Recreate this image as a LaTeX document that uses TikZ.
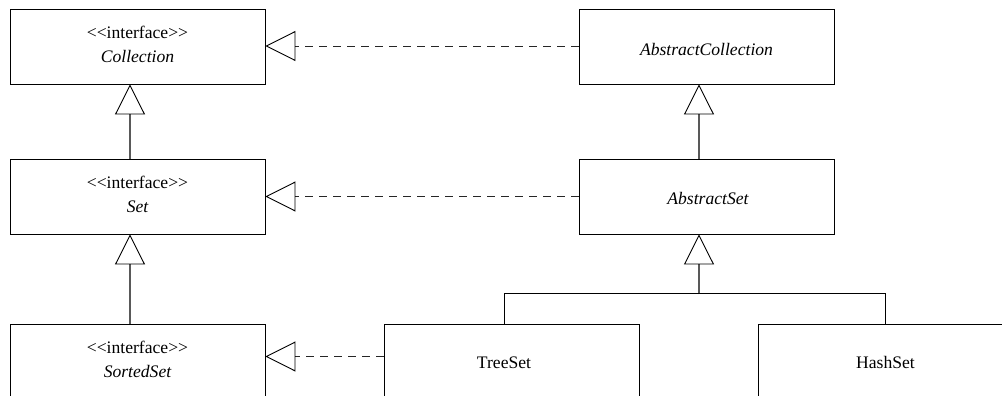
\documentclass[tikz,border=0pt]{standalone}
\usepackage{fontspec}
\setmainfont{Liberation Serif}[Ligatures=TeXOff]
\usetikzlibrary{arrows.meta,calc}
\begin{document}
\begin{tikzpicture}[x=1pt,y=-1pt,
  cls/.style={draw=black,line width=0.9pt,minimum width=255pt,minimum height=75pt,inner sep=0pt},
  lbl/.style={font=\fontsize{17.6}{21}\selectfont,anchor=base,inner sep=0pt},
  tip/.style={-{Triangle[open,length=30pt,width=30pt,line width=0.9pt,color=black]}},
  gen/.style={draw=black!65,line width=1.1pt,tip},
  link/.style={draw=black,line width=0.9pt},
  realz/.style={draw=black!85,line width=0.9pt,dash pattern=on 8pt off 6pt,tip}
]
\useasboundingbox (0,0) rectangle (1002,396);
\clip (0,0) rectangle (1002,396);

% boxes
\node[cls] (coll)  at (137.5,46.5)  {};
\node[cls] (acoll) at (706.5,46.5)  {};
\node[cls] (set)   at (137.5,196.5) {};
\node[cls] (aset)  at (706.5,196.5) {};
\node[cls] (sset)  at (137.5,361.5) {};
\node[cls] (tree)  at (511.5,361.5) {};
\node[cls] (hash)  at (885.5,361.5) {};

% texts
\node[lbl] (collA) at ($(coll.north)+(0,30)$) {<\kern0pt<interface>\kern0pt>};
\node[lbl] (collB) at ($(coll.north)+(0,54)$) {\itshape Collection};
\node[lbl] (setA)  at ($(set.north)+(0,30)$)  {<\kern0pt<interface>\kern0pt>};
\node[lbl] (setB)  at ($(set.north)+(0,54)$)  {\itshape Set};
\node[lbl] (ssetA) at ($(sset.north)+(0,30)$) {<\kern0pt<interface>\kern0pt>};
\node[lbl] (ssetB) at ($(sset.north)+(0,54)$) {\itshape SortedSet};
\node[lbl] (acollT) at ($(acoll.north)+(0,47)$) {\itshape AbstractCollection};
\node[lbl] (asetT)  at ($(aset.north)+(1.5,46)$) {\itshape AbstractSet};
\node[lbl] (treeT)  at ($(tree.north)+(-7.5,45)$) {TreeSet};
\node[lbl] (hashT)  at ($(hash.north)+(0,45)$) {HashSet};

% generalisations
\draw[gen] ($(set.north)+(-7.5,0)$) -- ($(coll.south)+(-7.5,0)$);
\draw[gen] ($(sset.north)+(-7.5,0)$) -- ($(set.south)+(-7.5,0)$);
\draw[gen] ($(aset.north)+(-7.5,0)$) -- ($(acoll.south)+(-7.5,0)$);
\coordinate (j)  at ($(aset.south)+(-7.5,60)$);
\coordinate (jt) at ($(tree.north)+(-7.5,-30)$);
\coordinate (jh) at ($(hash.north)+(0,-30)$);
\draw[gen] (j) -- ($(aset.south)+(-7.5,0)$);
\draw[link] ($(tree.north)+(-7.5,0)$) -- (jt) -- (jh) -- (hash.north);

% realisations
\draw[realz] ($(acoll.west)+(0,-0.5)$) -- ($(coll.east)+(0,-0.5)$);
\draw[realz] (aset.west) -- (set.east);
\draw[realz] ($(tree.west)+(0,-5)$) -- ($(sset.east)+(0,-5)$);
\end{tikzpicture}
\end{document}
